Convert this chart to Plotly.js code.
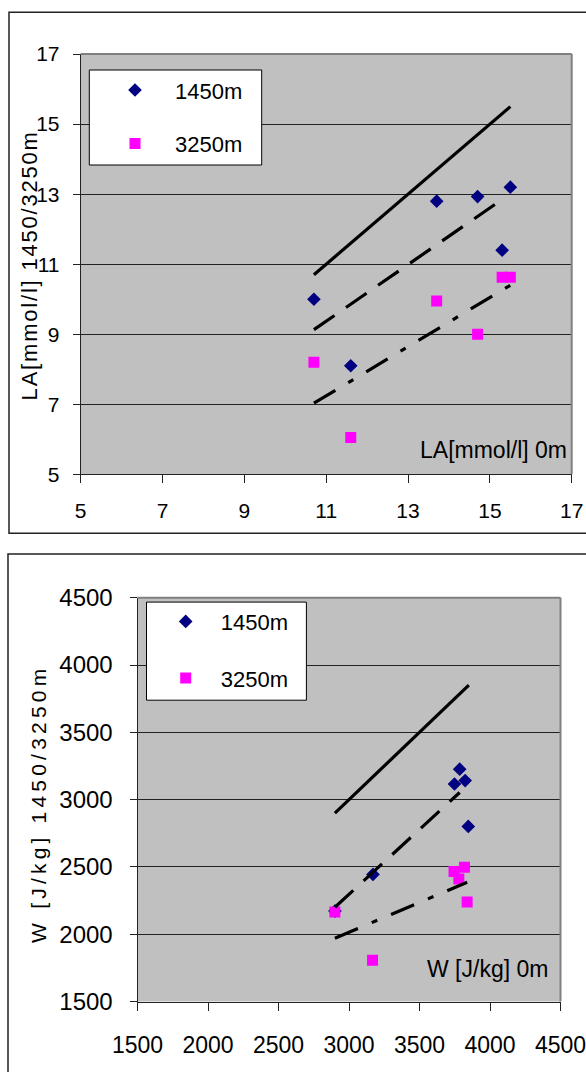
<!DOCTYPE html>
<html>
<head>
<meta charset="utf-8">
<script src="https://cdn.plot.ly/plotly-3.0.1.min.js"></script>
<style>
  html, body { margin: 0; padding: 0; background: #fff; }
  #chart { width: 586px; height: 1072px; }
  .annotation[data-index="2"] .annotation-text { letter-spacing: 1.8px; }
  .annotation[data-index="3"] .annotation-text { letter-spacing: 4.2px; }
</style>
</head>
<body>
<div id="chart"></div>
<script>
// ---- Data: lactate (LA, mmol/l) ----
var la0m_1450 = [10.7, 11.6, 13.7, 14.7, 15.3, 15.5];
var la_1450   = [10.0, 8.1, 12.8, 12.93, 11.4, 13.2];
var la0m_3250 = [10.7, 11.6, 13.7, 14.7, 15.3, 15.5];
var la_3250   = [8.2, 6.05, 9.95, 9.0, 10.63, 10.63];
var laIdentX = [10.7, 15.5], laIdentY = [10.7, 15.5];
var laFit1450X = [10.7, 15.3], laFit1450Y = [9.13, 12.85];
var laFit3250X = [10.7, 15.5], laFit3250Y = [7.03, 10.4];

// ---- Data: work (W, J/kg) ----
var w0m_1450 = [2900, 3170, 3748, 3785, 3824, 3846];
var w_1450   = [2172, 2444, 3116, 3226, 3141, 2801];
var w0m_3250 = [2900, 3167, 3745, 3779, 3819, 3838];
var w_3250   = [2165, 1807, 2466, 2411, 2497, 2240];
var wIdentX = [2900, 3850], wIdentY = [2900, 3850];
var wFit1450X = [2900, 3785], wFit1450Y = [2200, 3053];
var wFit3250X = [2900, 3838], wFit3250Y = [1970, 2386];

var seriesNames = ['1450m', '3250m'];
var laTicks = [5, 7, 9, 11, 13, 15, 17];
var wTicks = [1500, 2000, 2500, 3000, 3500, 4000, 4500];

var FONT = 'Liberation Sans, Arial, Helvetica, sans-serif';
var NAVY = '#000080', MAGENTA = '#FF00FF';
var W = 586, H = 1072;
function px(x) { return x / W; }
function py(y) { return 1 - y / H; }

var diamond = {symbol: 'diamond', size: 10.5, color: NAVY};
var square = {symbol: 'square', size: 11, color: MAGENTA};
var solid = {color: '#000', width: 3.2, dash: 'solid'};
var dashed = {color: '#000', width: 3.2, dash: '25px,14px'};
var dashdot = {color: '#000', width: 3.2, dash: '25px,15px,6px,15px'};

var traces = [
  {x: la0m_1450, y: la_1450, name: seriesNames[0], mode: 'markers', type: 'scatter', marker: diamond, xaxis: 'x', yaxis: 'y', legend: 'legend', legendgroup: 'a1'},
  {x: la0m_3250, y: la_3250, name: seriesNames[1], mode: 'markers', type: 'scatter', marker: square, xaxis: 'x', yaxis: 'y', legend: 'legend', legendgroup: 'b1'},
  {x: laIdentX, y: laIdentY, mode: 'lines', type: 'scatter', line: solid, xaxis: 'x', yaxis: 'y', showlegend: false},
  {x: laFit1450X, y: laFit1450Y, mode: 'lines', type: 'scatter', line: dashed, xaxis: 'x', yaxis: 'y', showlegend: false},
  {x: laFit3250X, y: laFit3250Y, mode: 'lines', type: 'scatter', line: dashdot, xaxis: 'x', yaxis: 'y', showlegend: false},

  {x: w0m_1450, y: w_1450, name: seriesNames[0], mode: 'markers', type: 'scatter', marker: diamond, xaxis: 'x2', yaxis: 'y2', legend: 'legend2', legendgroup: 'a2'},
  {x: w0m_3250, y: w_3250, name: seriesNames[1], mode: 'markers', type: 'scatter', marker: square, xaxis: 'x2', yaxis: 'y2', legend: 'legend2', legendgroup: 'b2'},
  {x: wIdentX, y: wIdentY, mode: 'lines', type: 'scatter', line: solid, xaxis: 'x2', yaxis: 'y2', showlegend: false},
  {x: wFit1450X, y: wFit1450Y, mode: 'lines', type: 'scatter', line: dashed, xaxis: 'x2', yaxis: 'y2', showlegend: false},
  {x: wFit3250X, y: wFit3250Y, mode: 'lines', type: 'scatter', line: dashdot, xaxis: 'x2', yaxis: 'y2', showlegend: false}
];

function axisBase(extra) {
  var a = {
    showline: true, linecolor: '#222', linewidth: 1,
    ticks: 'outside', ticklen: 7, tickcolor: '#222', tickwidth: 1,
    zeroline: false, showgrid: false, fixedrange: true,
    ticklabeloverflow: 'allow',
    tickfont: {family: FONT, size: 21, color: '#000'}
  };
  for (var k in extra) a[k] = extra[k];
  return a;
}

var layout = {
  width: W, height: H,
  margin: {l: 0, r: 0, t: 0, b: 0, pad: 0},
  paper_bgcolor: '#fff',
  plot_bgcolor: '#C0C0C0',
  font: {family: FONT, color: '#000'},
  xaxis: axisBase({domain: [px(80.7), px(571.7)], range: [5, 17], tickvals: laTicks, anchor: 'y', ticklen: 8, ticklabelstandoff: 9}),
  yaxis: axisBase({domain: [py(474.3), py(54.1)], range: [5, 17], tickvals: laTicks, anchor: 'x', showgrid: true, gridcolor: '#222', gridwidth: 1, ticklabelstandoff: 9}),
  xaxis2: axisBase({domain: [px(137.5), px(560.5)], range: [1500, 4500], tickvals: wTicks, anchor: 'y2', ticklen: 8, ticklabelstandoff: 15,
    tickfont: {family: FONT, size: 23, color: '#000'}}),
  yaxis2: axisBase({domain: [py(1001.5), py(597.7)], range: [1500, 4500], tickvals: wTicks, anchor: 'x2', ticklen: 7, showgrid: true, gridcolor: '#222', gridwidth: 1, ticklabelstandoff: 12,
    tickfont: {family: FONT, size: 24, color: '#000'}}),
  legend: {
    x: px(95), y: py(69.2), xanchor: 'left', yanchor: 'top',
    bgcolor: 'rgba(0,0,0,0)', borderwidth: 0,
    font: {family: FONT, size: 22, color: '#000'},
    itemwidth: 70, traceorder: 'grouped', tracegroupgap: 22
  },
  legend2: {
    x: px(150.7), y: py(600.6), xanchor: 'left', yanchor: 'top',
    bgcolor: 'rgba(0,0,0,0)', borderwidth: 0,
    font: {family: FONT, size: 22, color: '#000'},
    itemwidth: 60, traceorder: 'grouped', tracegroupgap: 25
  },
  shapes: [
    // outer chart frames
    {type: 'rect', xref: 'paper', yref: 'paper', x0: px(9), x1: px(600), y0: py(533.3), y1: py(12.2), line: {color: '#222', width: 1.5}, layer: 'below'},
    {type: 'rect', xref: 'paper', yref: 'paper', x0: px(8), x1: px(600), y0: py(1090), y1: py(554), line: {color: '#222', width: 1.5}, layer: 'below'},
    // gray top/right plot borders
    {type: 'line', xref: 'x domain', yref: 'y domain', x0: 0, x1: 1, y0: 1, y1: 1, line: {color: '#808080', width: 2}, layer: 'above'},
    {type: 'line', xref: 'x domain', yref: 'y domain', x0: 1, x1: 1, y0: 0, y1: 1, line: {color: '#808080', width: 2}, layer: 'above'},
    {type: 'line', xref: 'x2 domain', yref: 'y2 domain', x0: 0, x1: 1, y0: 1, y1: 1, line: {color: '#808080', width: 2}, layer: 'above'},
    {type: 'line', xref: 'x2 domain', yref: 'y2 domain', x0: 1, x1: 1, y0: 0, y1: 1, line: {color: '#808080', width: 2}, layer: 'above'},
    // legend boxes
    {type: 'rect', xref: 'paper', yref: 'paper', x0: px(89.3), x1: px(261.7), y0: py(165), y1: py(70), fillcolor: '#fff', line: {color: '#000', width: 1}, layer: 'above'},
    {type: 'rect', xref: 'paper', yref: 'paper', x0: px(146.5), x1: px(306.4), y0: py(700.2), y1: py(602.1), fillcolor: '#fff', line: {color: '#000', width: 1}, layer: 'above'}
  ],
  annotations: [
    {text: 'LA[mmol/l] 0m', xref: 'paper', yref: 'paper', x: px(569), y: py(450), xanchor: 'right', yanchor: 'middle', showarrow: false, font: {family: FONT, size: 23, color: '#000'}},
    {text: 'W [J/kg] 0m', xref: 'paper', yref: 'paper', x: px(550), y: py(969), xanchor: 'right', yanchor: 'middle', showarrow: false, font: {family: FONT, size: 23, color: '#000'}},
    {text: 'LA[mmol/l] 1450/3250m', xref: 'paper', yref: 'paper', x: px(29.5), y: py(266), xanchor: 'center', yanchor: 'middle', textangle: -90, showarrow: false, font: {family: FONT, size: 22, color: '#000'}},
    {text: 'W [J/kg] 1450/3250m', xref: 'paper', yref: 'paper', x: px(38), y: py(804), xanchor: 'center', yanchor: 'middle', textangle: -90, showarrow: false, font: {family: FONT, size: 21, color: '#000'}}
  ]
};

Plotly.newPlot('chart', traces, layout, {displayModeBar: false, staticPlot: true});
</script>
</body>
</html>
